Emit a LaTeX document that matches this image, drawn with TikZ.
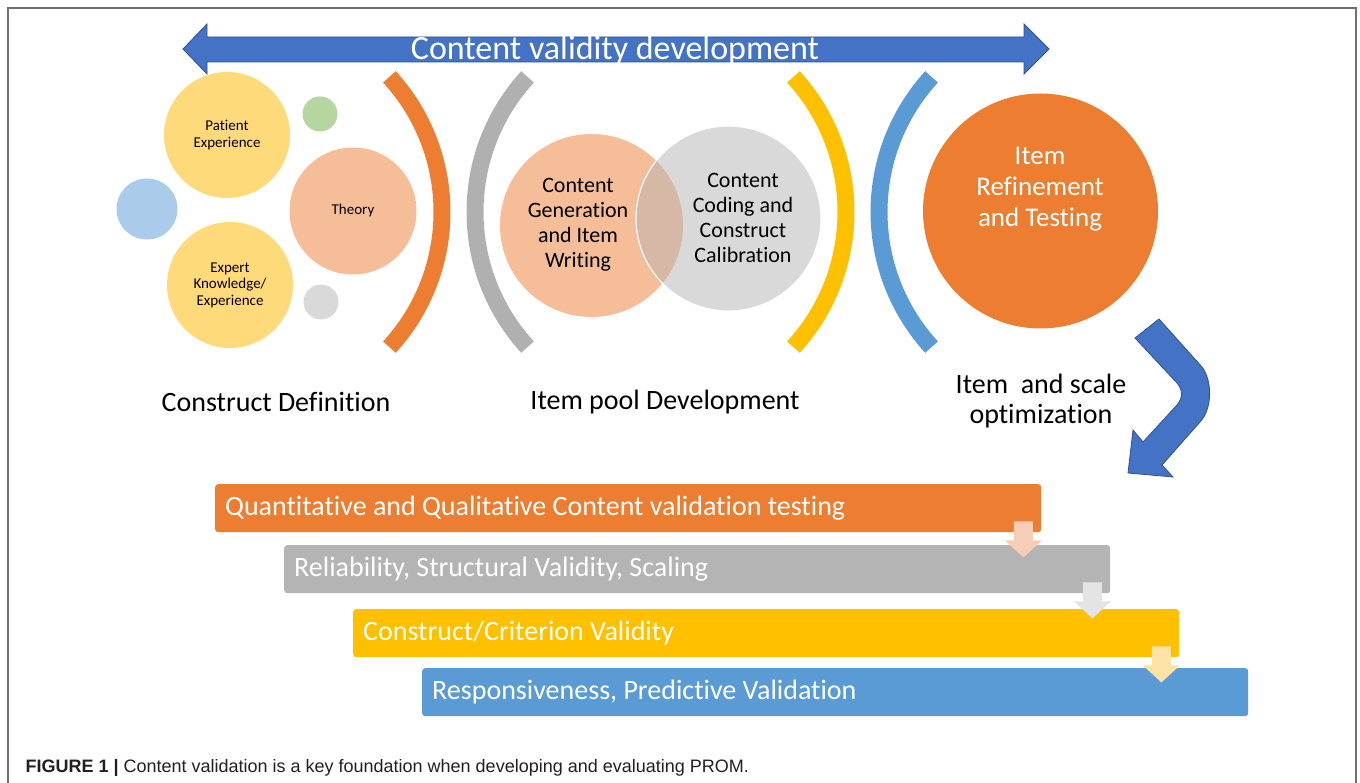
\documentclass[tikz,border=0pt]{standalone}
\usepackage{fontspec}
\usepackage{tikz}
\setmainfont{Carlito}[Ligatures=NoCommon]
\newfontfamily\capfont{Liberation Sans}

\definecolor{arrowblue}{HTML}{4472C4}
\definecolor{arrowedge}{HTML}{2F528F}
\definecolor{sunny}{HTML}{FFDA7A}
\definecolor{peach}{HTML}{F5BD98}
\definecolor{paleblue}{HTML}{ABCBEA}
\definecolor{palegreen}{HTML}{B5D6A0}
\definecolor{palegray}{HTML}{D9D9D9}
\definecolor{overlap}{HTML}{D5B8A5}
\definecolor{arcorange}{HTML}{ED7D31}
\definecolor{arcgray}{HTML}{B0B0B0}
\definecolor{arcyellow}{HTML}{FFC000}
\definecolor{arcblue}{HTML}{5B9BD5}
\definecolor{bargray}{HTML}{B4B4B4}
\definecolor{softpeach}{HTML}{F8CDB8}
\definecolor{softgray}{HTML}{E4E4E4}
\definecolor{softyellow}{HTML}{FFE3A6}
\definecolor{framegray}{HTML}{707070}
\definecolor{capgray}{HTML}{231F20}

\begin{document}
\begin{tikzpicture}[x=1pt, y=-1pt,
  every node/.style={font=\fontsize{15}{16.5}\selectfont, align=center},
  blob/.style={circle, minimum size=#1, inner sep=0pt},
  band/.style={line width=17pt},
  stage/.style={font=\fontsize{28}{30}\selectfont},
  bar/.style={rounded corners=3pt, anchor=north west, minimum height=48pt, text width=806pt,
    inner xsep=10pt, inner ysep=0pt, align=flush left, text=white, font=\fontsize{28}{30}\selectfont}]
  \useasboundingbox (0,0) rectangle (1360,783);
  \draw[line width=1.3pt, draw=framegray] (8,783) -- (8,8) -- (1356,8) -- (1356,783);

  % big arrow on top
  \draw[fill=arrowblue, draw=arrowedge, line width=0.8pt] (183,49) -- (207,24) -- (207,37) -- (1024,37)
    -- (1024,24) -- (1049,49) -- (1024,74) -- (1024,62) -- (207,62) -- (207,74) -- cycle;
  \node (title) [anchor=base, text=white, font=\fontsize{34}{36}\selectfont] at (615,60) {Content validity development};

  % construct definition
  \node (patient) [blob=126pt, fill=sunny] at (227,135) {Patient\\Experience};
  \node (expert) [blob=126pt, fill=sunny] at (230,285) {Expert\\Knowledge/\\Experience};
  \node (theory) [blob=127pt, fill=peach] at (353,211) {Theory};
  \node (dotblue) [blob=61pt, fill=paleblue] at (147,209) {};
  \node (dotgreen) [blob=35pt, fill=palegreen] at (320,114) {};
  \node (dotgray) [blob=35pt, fill=palegray] at (321,302) {};

  % brackets
  \draw[band, draw=arcorange] (242,212) ++(-42.5:200) arc[start angle=-42.5, end angle=42.5, radius=200];
  \draw[band, draw=arcgray] (675,212) ++(137.5:200) arc[start angle=137.5, end angle=222.5, radius=200];
  \draw[band, draw=arcyellow] (646,212) ++(-42.5:200) arc[start angle=-42.5, end angle=42.5, radius=200];
  \draw[band, draw=arcblue] (1079,212) ++(137.5:200) arc[start angle=137.5, end angle=222.5, radius=200];

  % item pool
  \node (gen) [blob=183pt, fill=peach] at (591.5,225.5) {};
  \node (coding) [blob=185pt, fill=palegray] at (728.5,218.5) {};
  \begin{scope}
    \clip (591.5,225.5) circle[radius=91.5];
    \fill[overlap] (728.5,218.5) circle[radius=92.5];
  \end{scope}
  \draw[white, line width=1.2pt] (728.5,218.5) circle[radius=92.5];
  \node (gentext) [font=\fontsize{22}{25}\selectfont] at (578,225) {Content\\Generation\\and Item\\Writing};
  \node (codetext) [font=\fontsize{22}{25}\selectfont] at (743,218) {Content\\Coding and\\Construct\\Calibration};

  % optimization
  \node (refine) [blob=235pt, fill=arcorange] at (1040.5,211) {};
  \node (refinetext) [text=white, font=\fontsize{27}{31}\selectfont] at (1040,189) {Item\\Refinement\\and Testing};

  \node (defn) [stage] at (276,402) {Construct Definition};
  \node (pool) [stage] at (665,402) {Item pool Development};
  \node (optim) [stage] at (1041,401) {Item\ \ and scale\\optimization};

  % bent arrow
  \draw[fill=arrowblue, draw=arrowedge, line width=0.8pt] (1135,338) -- (1159,319) -- (1202,367)
    .. controls (1212,380) and (1213,408) .. (1200,422) -- (1162,465) -- (1173,477) -- (1128,473)
    -- (1133,430) -- (1143,442) -- (1177,405) .. controls (1183,398) and (1183,390) .. (1177,383) -- cycle;

  % testing steps
  \node (quant) [bar, fill=arcorange] at (215,484) {Quantitative and Qualitative Content validation testing};
  \node (relia) [bar, fill=bargray] at (284,545) {Reliability, Structural Validity, Scaling};
  \node (constr) [bar, fill=arcyellow] at (353,609) {Construct/Criterion Validity};
  \node (respo) [bar, fill=arcblue] at (422,668) {Responsiveness, Predictive Validation};

  \fill[softpeach] ([xshift=-18pt, yshift=11pt]quant.south east) ++(-9.5,0) -- ++(19,0) -- ++(0,19) -- ++(9,0)
    -- ++(-18.5,17) -- ++(-18.5,-17) -- ++(9,0) -- cycle;
  \fill[softgray] ([xshift=-18pt, yshift=11pt]relia.south east) ++(-9.5,0) -- ++(19,0) -- ++(0,19) -- ++(9,0)
    -- ++(-18.5,17) -- ++(-18.5,-17) -- ++(9,0) -- cycle;
  \fill[softyellow] ([xshift=-18pt, yshift=11pt]constr.south east) ++(-9.5,0) -- ++(19,0) -- ++(0,19) -- ++(9,0)
    -- ++(-18.5,17) -- ++(-18.5,-17) -- ++(9,0) -- cycle;

  \node (caption) [anchor=base west, align=left, text=capgray, font=\capfont\fontsize{18}{20}\selectfont] at (22,772)
    {\textbf{FIGURE 1 |} Content validation is a key foundation when developing and evaluating PROM.};
\end{tikzpicture}
\end{document}
